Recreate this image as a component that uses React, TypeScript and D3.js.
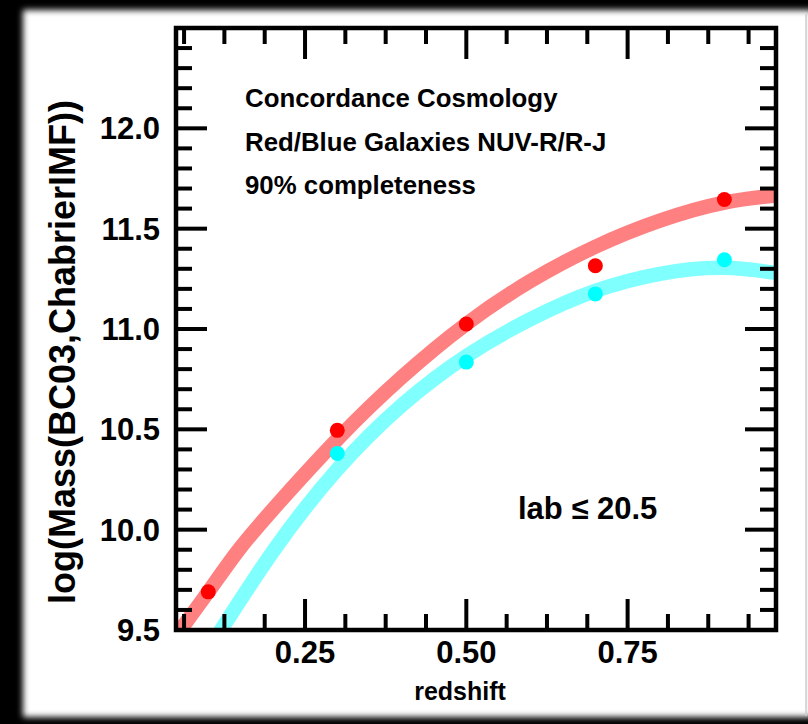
import React from "react";
import * as d3 from "d3";

// data points
const redZ = [0.1, 0.3, 0.5, 0.7, 0.9];
const redMass = [9.69, 10.495, 11.025, 11.315, 11.645];
const cyanZ = [0.3, 0.5, 0.7, 0.9];
const cyanMass = [10.38, 10.835, 11.175, 11.345];

// fitted curves
const redFitZ = [0.03, 0.05, 0.1, 0.145, 0.2, 0.3, 0.4, 0.5, 0.6, 0.7, 0.8, 0.9, 0.98, 1.0];
const redFitMass = [9.38, 9.47, 9.69, 9.89, 10.1, 10.45, 10.76, 11.025, 11.24, 11.41, 11.54, 11.63, 11.665, 11.67];
const cyanFitZ = [0.1, 0.2, 0.3, 0.4, 0.5, 0.6, 0.7, 0.8, 0.9, 1.0];
const cyanFitMass = [9.4, 9.89, 10.3, 10.62, 10.865, 11.05, 11.19, 11.275, 11.305, 11.27];

const xTickLabels = ["0.25", "0.50", "0.75"];
const yTickLabels = ["9.5", "10.0", "10.5", "11.0", "11.5", "12.0"];
const notes = ["Concordance Cosmology", "Red/Blue Galaxies NUV-R/R-J", "90% completeness"];

const W = 808;
const H = 724;
const frame = { left: 176, right: 776, top: 28, bottom: 630 };
const font = "'Liberation Sans', Arial, Helvetica, sans-serif";

export default function App() {
  const x = d3.scaleLinear().domain([0.05, 0.98]).range([frame.left, frame.right]);
  const y = d3.scaleLinear().domain([9.5, 12.5]).range([frame.bottom, frame.top]);

  const line = d3
    .line<[number, number]>()
    .x((d) => x(d[0]))
    .y((d) => y(d[1]))
    .curve(d3.curveNatural);

  const redFit = redFitZ.map((z, i) => [z, redFitMass[i]] as [number, number]);
  const cyanFit = cyanFitZ.map((z, i) => [z, cyanFitMass[i]] as [number, number]);

  // ticks: x every 1/16, y every 0.1
  const xTicks = d3.range(1, 16).map((i) => ({ v: i * 0.0625, major: i % 4 === 0 }));
  const yTicks = d3.range(96, 125).map((i) => ({ v: i / 10, major: i % 5 === 0 }));
  const minorLen = 16;
  const majorLen = 31;

  return (
    <svg
      width={W}
      height={H}
      style={{ position: "absolute", left: 0, top: 0, display: "block" }}
      fontFamily={font}
      fontWeight="bold"
    >
      <defs>
        <filter id="soft" x="-5%" y="-5%" width="110%" height="110%">
          <feGaussianBlur stdDeviation="3" />
        </filter>
        <clipPath id="plot">
          <rect x={frame.left} y={frame.top} width={frame.right - frame.left} height={frame.bottom - frame.top} />
        </clipPath>
      </defs>
      <rect x={0} y={0} width={W} height={H} fill="#000" />
      <rect x={23} y={10} width={790} height={707} fill="#fff" filter="url(#soft)" />
      <line x1={806} x2={806} y1={14} y2={716} stroke="#ccc" strokeWidth={1.5} />

      <g clipPath="url(#plot)">
        <path d={line(redFit) || ""} fill="none" stroke="#ff8080" strokeWidth={14.5} />
        <path d={line(cyanFit) || ""} fill="none" stroke="#80ffff" strokeWidth={14.5} />
      </g>

      {redZ.map((z, i) => (
        <circle key={"r" + i} cx={x(z)} cy={y(redMass[i])} r={7.5} fill="#ff0000" />
      ))}
      {cyanZ.map((z, i) => (
        <circle key={"c" + i} cx={x(z)} cy={y(cyanMass[i])} r={7.5} fill="#00ffff" />
      ))}

      <g stroke="#000" strokeWidth={4}>
        {xTicks.map((t, i) => {
          const len = t.major ? majorLen : minorLen;
          return (
            <g key={"xt" + i}>
              <line x1={x(t.v)} x2={x(t.v)} y1={frame.bottom} y2={frame.bottom - len} />
              <line x1={x(t.v)} x2={x(t.v)} y1={frame.top} y2={frame.top + len} />
            </g>
          );
        })}
        {yTicks.map((t, i) => {
          const len = t.major ? majorLen : minorLen;
          return (
            <g key={"yt" + i}>
              <line x1={frame.left} x2={frame.left + len} y1={y(t.v)} y2={y(t.v)} />
              <line x1={frame.right} x2={frame.right - len} y1={y(t.v)} y2={y(t.v)} />
            </g>
          );
        })}
      </g>
      <rect
        x={frame.left}
        y={frame.top}
        width={frame.right - frame.left}
        height={frame.bottom - frame.top}
        fill="none"
        stroke="#000"
        strokeWidth={4.5}
      />

      {xTickLabels.map((s) => (
        <text key={s} x={x(+s)} y={663} textAnchor="middle" fontSize={31} fill="#000">
          {s}
        </text>
      ))}
      {yTickLabels.map((s) => (
        <text key={s} x={160} y={y(+s) + 11} textAnchor="end" fontSize={31} fill="#000">
          {s}
        </text>
      ))}

      <text x={460} y={700} textAnchor="middle" fontSize={25} fill="#000">
        redshift
      </text>
      <text
        transform="translate(75,352) rotate(-90)"
        textAnchor="middle"
        fontSize={36}
        fill="#000"
      >
        log(Mass(BC03,ChabrierIMF))
      </text>

      {notes.map((s, i) => (
        <text key={s} x={245} y={107 + i * 43.5} fontSize={25.8} fill="#000">
          {s}
        </text>
      ))}
      <text x={518} y={519} fontSize={31} fill="#000">
        lab ≤ 20.5
      </text>
    </svg>
  );
}
